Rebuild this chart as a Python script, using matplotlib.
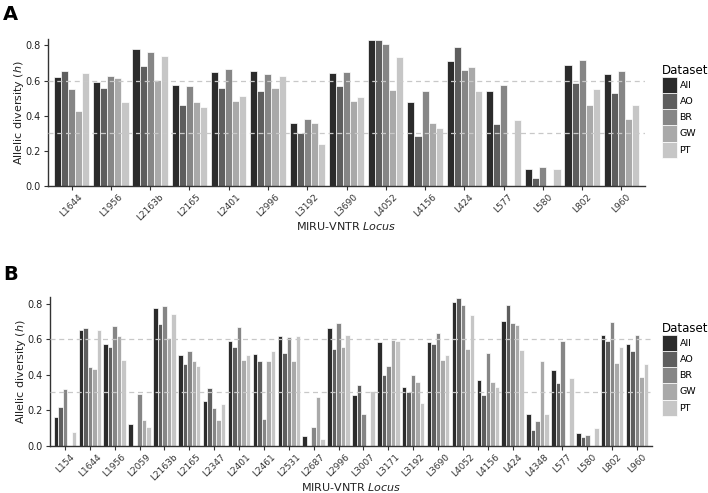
import numpy as np
import matplotlib
matplotlib.use("Agg")
from matplotlib import pyplot as plt
from matplotlib.patches import Patch

datasets = ["All", "AO", "BR", "GW", "PT"]
colours = ["#2b2b2b", "#5e5e5e", "#868686", "#a9a9a9", "#c6c6c6"]
nan = np.nan

# panel A
loci_a = ["L1644", "L1956", "L2163b", "L2165", "L2401", "L2996", "L3192", "L3690",
          "L4052", "L4156", "L424", "L577", "L580", "L802", "L960"]
a_all = [0.621, 0.592, 0.781, 0.574, 0.649, 0.653, 0.355, 0.645, 0.832, 0.477, 0.709, 0.542, 0.094, 0.689, 0.636]
a_ao = [0.657, 0.555, 0.681, 0.458, 0.557, 0.542, 0.300, 0.570, 0.832, 0.285, 0.789, 0.351, 0.045, 0.585, 0.530]
a_br = [0.549, 0.625, 0.760, 0.566, 0.668, 0.638, 0.379, 0.649, 0.809, 0.538, 0.660, 0.577, 0.108, 0.715, 0.657]
a_gw = [0.426, 0.617, 0.604, 0.475, 0.485, 0.557, 0.358, 0.485, 0.543, 0.358, 0.677, nan, nan, 0.460, 0.379]
a_pt = [0.645, 0.477, 0.742, 0.447, 0.509, 0.623, 0.238, 0.506, 0.736, 0.328, 0.538, 0.377, 0.096, 0.553, 0.458]

# panel B
loci_b = ["L154", "L1644", "L1956", "L2059", "L2163b", "L2165", "L2347", "L2401", "L2461",
          "L2531", "L2687", "L2996", "L3007", "L3171", "L3192", "L3690", "L4052", "L4156",
          "L424", "L4348", "L577", "L580", "L802", "L960"]
b_all = [0.159, 0.650, 0.572, 0.121, 0.772, 0.510, 0.254, 0.589, 0.516, 0.619, 0.052, 0.662,
         0.288, 0.582, 0.329, 0.582, 0.809, 0.368, 0.704, 0.180, 0.424, 0.074, 0.621, 0.571]
b_ao = [0.219, 0.662, 0.553, nan, 0.684, 0.458, 0.325, 0.557, 0.477, 0.523, nan, 0.545,
        0.340, 0.398, 0.303, 0.574, 0.831, 0.288, 0.790, 0.089, 0.355, 0.050, 0.591, 0.532]
b_br = [0.318, 0.443, 0.671, 0.293, 0.785, 0.535, 0.211, 0.667, 0.153, 0.609, 0.108, 0.691,
        0.180, 0.448, 0.400, 0.634, 0.790, 0.519, 0.693, 0.138, 0.591, 0.058, 0.695, 0.621]
b_gw = [nan, 0.430, 0.619, 0.145, 0.606, 0.475, 0.145, 0.484, 0.475, 0.475, 0.273, 0.558,
        nan, 0.595, 0.359, 0.485, 0.546, 0.359, 0.677, 0.476, nan, nan, 0.463, 0.385]
b_pt = [0.078, 0.650, 0.482, 0.106, 0.742, 0.447, 0.236, 0.510, 0.531, 0.615, 0.039, 0.621,
        0.310, 0.591, 0.240, 0.509, 0.738, 0.333, 0.541, 0.180, 0.381, 0.099, 0.556, 0.459]

W, H = 708, 493
fig = plt.figure(figsize=(W / 100, H / 100), dpi=100)


def panel(rect, loci, series, letter, letter_y, xlab_y, leg_y):
    ax = fig.add_axes(rect)
    x = np.arange(len(loci))
    bw = 0.9 / 5
    for i, vals in enumerate(series):
        ax.bar(x - 0.45 + bw * (i + 0.5), vals, width=bw, color=colours[i],
               edgecolor="white", linewidth=0.5, zorder=2)
    for yy in (0.3, 0.6):
        ax.axhline(yy, color="#c8c8c8", ls=(0, (4, 3)), lw=0.9, zorder=3)
    ax.set_xlim(-0.6, len(loci) - 0.4)
    ax.set_ylim(0, 0.835)
    ax.set_yticks([0, 0.2, 0.4, 0.6, 0.8])
    ax.set_yticklabels(["0.0", "0.2", "0.4", "0.6", "0.8"])
    ax.set_xticks(x)
    ax.set_xticklabels(loci, rotation=45, ha="center", va="top")
    ax.tick_params(labelsize=6.5, colors="#333333", length=3, width=0.8, pad=2)
    ax.tick_params(axis="y", labelcolor="#222222", labelsize=7)
    for s in ("top", "right"):
        ax.spines[s].set_visible(False)
    for s in ("left", "bottom"):
        ax.spines[s].set_color("#333333")
        ax.spines[s].set_linewidth(1.0)
    ax.set_ylabel(r"Allelic diversity ($\it{h}$)", fontsize=8, color="#222222", labelpad=0)
    fig.text(rect[0] + rect[2] / 2, xlab_y, r"MIRU-VNTR $\it{Locus}$", fontsize=8,
             ha="center", va="center", color="#222222")
    fig.text(0.004, letter_y, letter, fontsize=14, fontweight="bold", ha="left", va="top")
    handles = [Patch(facecolor=c, edgecolor="white", linewidth=0.5) for c in colours]
    leg = fig.legend(handles, datasets, loc="upper left", bbox_to_anchor=(662 / W, leg_y),
                     frameon=False, fontsize=6.8, title="Dataset", title_fontsize=8.5,
                     handlelength=1.55, handleheight=2.25, labelspacing=0.0,
                     handletextpad=0.3, borderpad=0, borderaxespad=0)
    leg._legend_box.align = "left"
    return ax


panel([48 / W, 1 - 185.7 / H, (645 - 48) / W, (185.7 - 39.3) / H],
      loci_a, [a_all, a_ao, a_br, a_gw, a_pt], "A", 1 - 5 / H, 1 - 226 / H, 1 - 64 / H)
panel([50 / W, 1 - 445.7 / H, (652 - 50) / W, (445.7 - 297.3) / H],
      loci_b, [b_all, b_ao, b_br, b_gw, b_pt], "B", 1 - 265 / H, 1 - 487 / H, 1 - 322 / H)

fig.savefig("out.png", dpi=100)
